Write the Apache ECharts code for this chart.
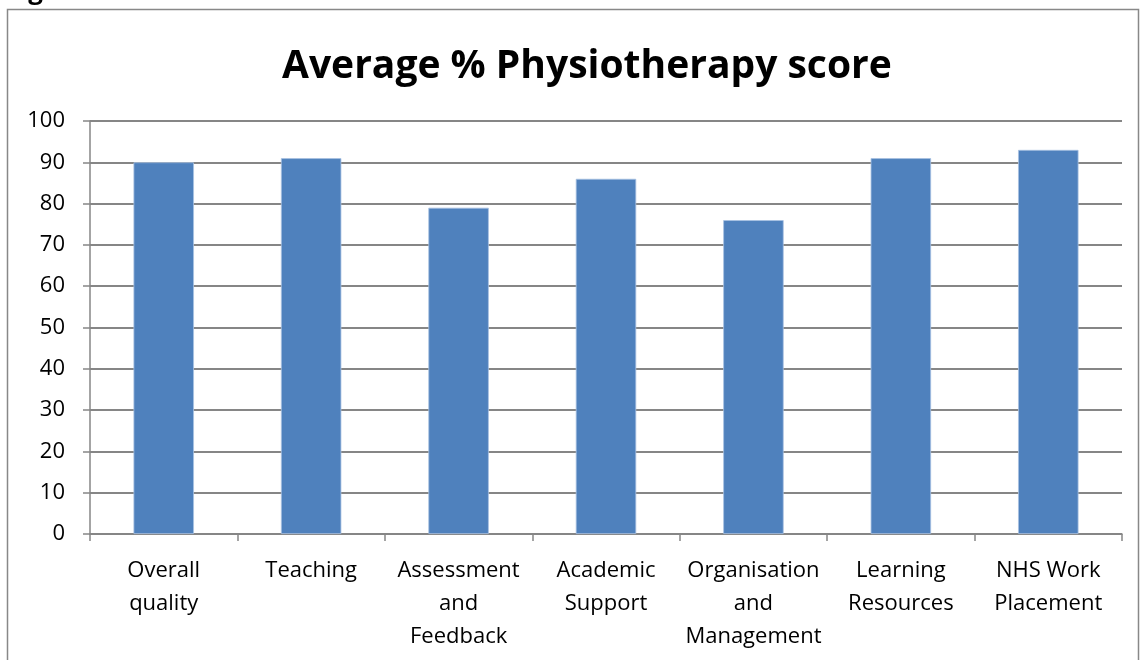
<!DOCTYPE html>
<html>
<head>
<meta charset="utf-8">
<script src="https://cdn.jsdelivr.net/npm/echarts@6/dist/echarts.min.js"></script>
<style>
  html, body { margin: 0; padding: 0; background: #fff; }
  #chart { width: 1141px; height: 660px; }
</style>
</head>
<body>
<div id="chart"></div>
<script>
// 分类与数值
var categories = ['Overall\nquality', 'Teaching', 'Assessment\nand\nFeedback', 'Academic\nSupport',
    'Organisation\nand\nManagement', 'Learning\nResources', 'NHS Work\nPlacement'];
var scores = [90, 91, 79, 86, 76, 91, 93];
var yTicks = [0, 10, 20, 30, 40, 50, 60, 70, 80, 90, 100];

var font = '"Open Sans", "Noto Sans", sans-serif';
var chart = echarts.init(document.getElementById('chart'));

chart.setOption({
    animation: false,
    title: {
        text: 'Average % Physiotherapy score',
        left: 277,
        top: 42,
        textStyle: {
            fontFamily: font,
            fontSize: 39,
            fontWeight: 'bold',
            color: '#000'
        }
    },
    graphic: [
        {
            type: 'rect',
            shape: { x: 7.5, y: 9.5, width: 1131, height: 660 },
            style: { fill: 'none', stroke: '#888', lineWidth: 1.5 }
        },
        {
            type: 'text',
            left: 6,
            top: -21,
            style: {
                text: 'Figure 1a',
                font: 'bold 26px ' + font,
                fill: '#000'
            }
        }
    ],
    grid: {
        left: 90,
        right: 19,
        top: 121,
        bottom: 126
    },
    xAxis: {
        type: 'category',
        data: categories,
        axisLine: { lineStyle: { color: '#868686', width: 1.5 } },
        axisTick: { show: true, length: 7, lineStyle: { color: '#868686', width: 1.5 } },
        axisLabel: {
            interval: 0,
            margin: 20,
            lineHeight: 33,
            fontFamily: font,
            fontSize: 22,
            color: '#000'
        }
    },
    yAxis: {
        type: 'value',
        min: yTicks[0],
        max: yTicks[yTicks.length - 1],
        interval: 10,
        axisLine: { show: true, lineStyle: { color: '#868686', width: 1.5 } },
        axisTick: { show: true, length: 7, lineStyle: { color: '#868686', width: 1.5 } },
        splitLine: { lineStyle: { color: '#868686', width: 2 } },
        axisLabel: {
            margin: 25,
            fontFamily: font,
            fontSize: 22,
            color: '#000'
        }
    },
    series: [{
        name: 'Average %',
        type: 'bar',
        data: scores,
        barWidth: '41%',
        itemStyle: {
            color: '#4F81BD',
            borderColor: '#A8C2E2',
            borderWidth: 0.8
        }
    }]
});
</script>
</body>
</html>
